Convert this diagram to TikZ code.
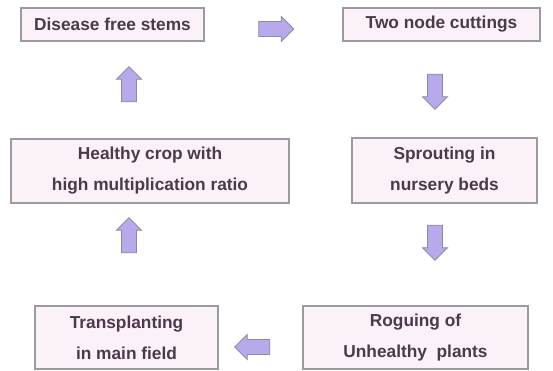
\documentclass[tikz,border=0pt]{standalone}
\usepackage{fontspec}
\setmainfont{Liberation Sans}
\usetikzlibrary{shapes.arrows}
\definecolor{stagefill}{HTML}{FBF1F9}
\definecolor{stageline}{HTML}{9C9A9E}
\definecolor{stagetext}{HTML}{4B3A4A}
\definecolor{flowfill}{HTML}{B8A9EC}
\definecolor{flowline}{HTML}{8E8AA0}
\tikzset{stage/.style={draw=stageline,line width=1.2pt,fill=stagefill,text=stagetext,inner sep=0pt,align=center,font=\fontsize{17.3}{31}\selectfont\bfseries},flow/.style={single arrow,draw=flowline,line width=0.8pt,fill=flowfill,inner sep=7pt,minimum width=25pt,minimum height=35pt,single arrow head extend=5pt,single arrow head indent=0pt}}

\begin{document}
\begin{tikzpicture}[x=1pt,y=-1pt]
\useasboundingbox (0,0) rectangle (553,371);
\node[stage,minimum width=183pt,minimum height=33pt] (stems) at (112.5,24.5) {Disease free stems};
\node[stage,minimum width=197pt,minimum height=33pt] (cuttings) at (441.5,24.5) {Two node cuttings};
\node[stage,minimum width=185pt,minimum height=65pt] (sprouting) at (444.5,170.5) {Sprouting in\\nursery beds};
\node[stage,minimum width=225pt,minimum height=63pt] (roguing) at (415.5,337.5) {Roguing of\\Unhealthy\ \ plants};
\node[stage,minimum width=183pt,minimum height=63pt] (transplant) at (126.5,337.5) {Transplanting\\in main field};
\node[stage,minimum width=278pt,minimum height=64pt] (healthy) at (150,171) {Healthy crop with\\high multiplication ratio};
% block arrows between the stages
\node[flow,shape border rotate=0] (toCuttings) at (272.5,29) {};
\node[flow,shape border rotate=270] (toSprouting) at (435,88) {};
\node[flow,shape border rotate=270] (toRoguing) at (435,239) {};
\node[flow,shape border rotate=180] (toTransplant) at (256,347) {};
\node[flow,shape border rotate=90] (toHealthy) at (129,239) {};
\node[flow,shape border rotate=90] (toStems) at (129,88) {};
\end{tikzpicture}
\end{document}
